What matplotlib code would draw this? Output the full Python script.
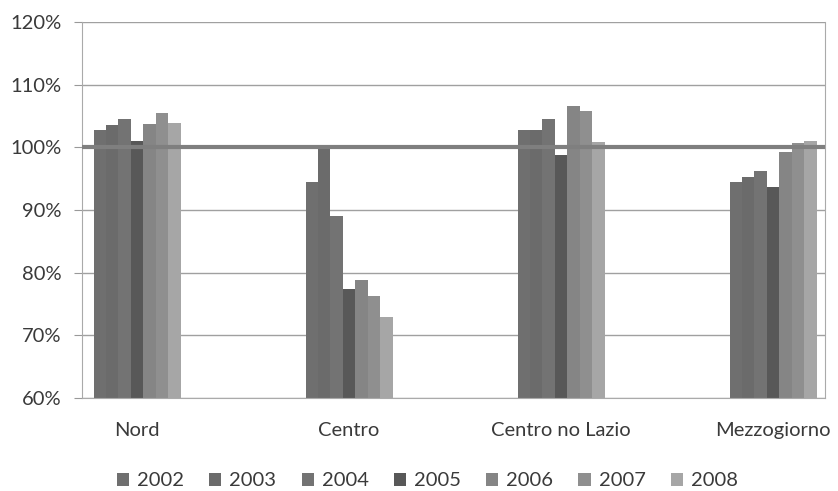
import numpy as np
import matplotlib.pyplot as plt

plt.rcParams['font.family'] = ['Lato', 'DejaVu Sans']

regioni = ['Nord', 'Centro', 'Centro no Lazio', 'Mezzogiorno']
anni = ['2002', '2003', '2004', '2005', '2006', '2007', '2008']
# values in %, one list per year (Nord, Centro, Centro no Lazio, Mezzogiorno)
v2002 = [102.7, 94.4, 102.7, 94.4]
v2003 = [103.5, 100.0, 102.7, 95.3]
v2004 = [104.6, 89.0, 104.5, 96.3]
v2005 = [101.0, 77.4, 98.8, 93.6]
v2006 = [103.7, 78.9, 106.6, 99.2]
v2007 = [105.5, 76.3, 105.8, 100.7]
v2008 = [103.9, 72.9, 100.9, 101.0]
serie = [v2002, v2003, v2004, v2005, v2006, v2007, v2008]
colori = ['#6f6f6f', '#6b6b6b', '#737373', '#585858', '#858585', '#8f8f8f', '#a6a6a6']

fig = plt.figure(figsize=(8.38, 4.91), dpi=100)
ax = fig.add_axes([82/838, 1-398/491, (825-82)/838, (398-22)/491])

x = np.arange(len(regioni))
w = 0.0587
for i, (vals, col) in enumerate(zip(serie, colori)):
    pos = x + (i - 3) * w
    ax.bar(pos, np.array(vals) - 60, width=w, bottom=60, color=col,
           label=anni[i], zorder=2, linewidth=0)

ax.axhline(100, color='#7f7f7f', lw=3, zorder=3)

ax.set_ylim(60, 120)
ax.set_xlim(-0.26, 3.245)
ax.set_yticks(range(60, 121, 10))
ax.set_yticklabels([f'{t}%' for t in range(60, 121, 10)])
ax.yaxis.grid(True, color='#a0a0a0', lw=1, zorder=0)
ax.set_xticks(x)
ax.set_xticklabels(regioni)
ax.tick_params(axis='x', length=0, pad=17, labelsize=14.5, colors='#3a3a3a')
ax.tick_params(axis='y', length=6, direction='out', color='#999999', pad=9,
               labelsize=14.5, labelcolor='#3a3a3a')
ax.spines['top'].set_visible(False)
for s in ['left', 'bottom', 'right']:
    ax.spines[s].set_color('#aaaaaa')

fig.legend(loc='center', bbox_to_anchor=(0.51, 1-481/491), ncol=7, frameon=False,
           fontsize=14.5, handlelength=0.6, handleheight=0.6, handletextpad=0.4,
           columnspacing=1.25, labelcolor='#3a3a3a', borderpad=0)

fig.savefig('out.png', dpi=100)
